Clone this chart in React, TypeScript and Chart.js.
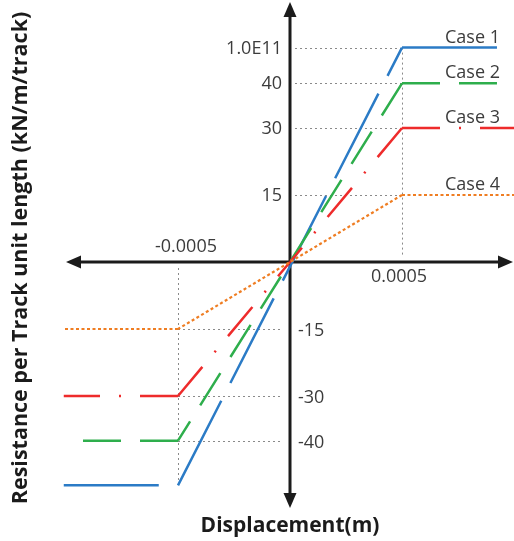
import React, { useEffect, useRef } from "react";
import { Chart, registerables } from "chart.js";

Chart.register(...registerables);

// ---- data ----
const caseNames = ["Case 1", "Case 2", "Case 3", "Case 4"];
const yieldDisp = 0.0005; // displacement at kink (m)
const posLimit = [48, 40, 30, 15];
const negLimit = [-50, -40, -30, -15];
const leftEnd = [-0.00101, -0.00093, -0.00101, -0.00101];
const rightEnd = [0.000924, 0.000924, 0.001, 0.001];

const yTickValues = [48, 40, 30, 15, -15, -30, -40];
const yTickLabels = ["1.0E11", "40", "30", "15", "-15", "-30", "-40"];
const xTickValues = [-0.0005, 0.0005];
const xTickLabels = ["-0.0005", "0.0005"];

// ---- styles ----
const colors = ["#2b7bc6", "#2eae4c", "#ee2b2b", "#ef7d22"];
const dashes = [[95, 20], [38, 19], [38, 19, 2, 19], [3, 2.5]];
const widths = [2.5, 2.5, 2.5, 2.2];
const FONT = "'Open Sans', 'Noto Sans', sans-serif";

const W = 514;
const H = 541;
const X0 = 290; // pixel of x = 0
const Y0 = 262; // pixel of y = 0
const XPX = 112 / 0.0005; // px per metre
const YPX = 4.467; // px per unit

type P = { x: number; y: number };

function seg(points: P[], i: number) {
  return {
    data: points,
    borderColor: colors[i],
    backgroundColor: colors[i],
    borderDash: dashes[i],
    borderWidth: widths[i],
    borderCapStyle: "butt" as const,
    showLine: true,
    pointRadius: 0,
    fill: false,
    tension: 0,
  };
}

function buildDatasets() {
  const ds: any[] = [];
  for (let i = caseNames.length - 1; i >= 0; i--) {
    const k = yieldDisp;
    const p = posLimit[i];
    const n = negLimit[i];
    if (i === 0) {
      ds.push(seg([{ x: leftEnd[i], y: n }, { x: -k, y: n }], i));
      ds.push(seg([{ x: -k, y: n }, { x: k, y: p }], i));
    } else if (i === 2) {
      ds.push(seg([{ x: -k, y: n }, { x: leftEnd[i], y: n }], i));
      ds.push(seg([{ x: k, y: p }, { x: 0, y: 0 }], i));
      ds.push(seg([{ x: -k, y: n }, { x: 0, y: 0 }], i));
    } else {
      ds.push(seg([{ x: -k, y: n }, { x: leftEnd[i], y: n }], i));
      ds.push(seg([{ x: k, y: p }, { x: -k, y: n }], i));
    }
    ds.push(seg([{ x: k, y: p }, { x: rightEnd[i], y: p }], i));
  }
  return ds;
}

const overlay = {
  id: "overlay",
  beforeDatasetsDraw(chart: any) {
    const ctx = chart.ctx;
    const xs = chart.scales.x;
    const ys = chart.scales.y;
    const ox = xs.getPixelForValue(0);
    const oy = ys.getPixelForValue(0);
    ctx.save();
    // dotted guide lines
    ctx.strokeStyle = "#8a8a8a";
    ctx.lineWidth = 1;
    ctx.setLineDash([2, 3]);
    const kx = xs.getPixelForValue(yieldDisp);
    const nkx = xs.getPixelForValue(-yieldDisp);
    yTickValues.forEach((v) => {
      const py = Math.round(ys.getPixelForValue(v)) + 0.5;
      ctx.beginPath();
      if (v > 0) {
        ctx.moveTo(ox + 5, py);
        ctx.lineTo(kx, py);
      } else {
        ctx.moveTo(nkx, py);
        ctx.lineTo(ox - 7, py);
      }
      ctx.stroke();
    });
    ctx.beginPath();
    ctx.moveTo(Math.round(kx) + 0.5, ys.getPixelForValue(posLimit[0]));
    ctx.lineTo(Math.round(kx) + 0.5, oy - 5);
    ctx.stroke();
    ctx.beginPath();
    ctx.moveTo(Math.round(nkx) + 0.5, oy + 6);
    ctx.lineTo(Math.round(nkx) + 0.5, ys.getPixelForValue(negLimit[0]));
    ctx.stroke();

    // axes with arrows
    ctx.setLineDash([]);
    ctx.strokeStyle = "#1b1b1b";
    ctx.fillStyle = "#1b1b1b";
    ctx.lineWidth = 3;
    const top = 2, bottom = 508, left = 66, right = 513;
    const ah = 15, aw = 6.5;
    ctx.beginPath();
    ctx.moveTo(ox, top + ah - 1);
    ctx.lineTo(ox, bottom - ah + 1);
    ctx.moveTo(left + ah - 1, oy);
    ctx.lineTo(right - ah + 1, oy);
    ctx.stroke();
    const tri = (a: number[], b: number[], c: number[]) => {
      ctx.beginPath();
      ctx.moveTo(a[0], a[1]);
      ctx.lineTo(b[0], b[1]);
      ctx.lineTo(c[0], c[1]);
      ctx.closePath();
      ctx.fill();
    };
    tri([ox, top], [ox - aw, top + ah], [ox + aw, top + ah]);
    tri([ox, bottom], [ox - aw, bottom - ah], [ox + aw, bottom - ah]);
    tri([left, oy], [left + ah, oy - aw], [left + ah, oy + aw]);
    tri([right, oy], [right - ah, oy - aw], [right - ah, oy + aw]);
    ctx.restore();
  },
  afterDatasetsDraw(chart: any) {
    const ctx = chart.ctx;
    const xs = chart.scales.x;
    const ys = chart.scales.y;
    const ox = xs.getPixelForValue(0);
    const oy = ys.getPixelForValue(0);
    ctx.save();
    ctx.fillStyle = "#3c3c3c";
    ctx.font = `18px ${FONT}`;
    ctx.textBaseline = "middle";
    yTickValues.forEach((v, i) => {
      const py = ys.getPixelForValue(v) + 1;
      if (v > 0) {
        ctx.textAlign = "right";
        ctx.fillText(yTickLabels[i], ox - 8, py);
      } else {
        ctx.textAlign = "left";
        ctx.fillText(yTickLabels[i], ox + 8, py + 1);
      }
    });
    xTickValues.forEach((v, i) => {
      const px = xs.getPixelForValue(v);
      ctx.textAlign = "center";
      if (v < 0) ctx.fillText(xTickLabels[i], px + 8, oy - 15);
      else ctx.fillText(xTickLabels[i], px - 3, oy + 15);
    });
    ctx.textAlign = "left";
    caseNames.forEach((name, i) => {
      const py = ys.getPixelForValue(posLimit[i]) - 10;
      ctx.fillText(name, 445, py);
    });
    // axis titles
    ctx.fillStyle = "#1b1b1b";
    ctx.font = `bold 21px ${FONT}`;
    ctx.textAlign = "center";
    ctx.fillText("Displacement(m)", ox, 526);
    ctx.translate(21, 258);
    ctx.rotate(-Math.PI / 2);
    ctx.font = `bold 21.5px ${FONT}`;
    ctx.fillText("Resistance per Track unit length (kN/m/track)", 0, 0);
    ctx.restore();
  },
};

export default function App() {
  const ref = useRef<HTMLCanvasElement | null>(null);
  useEffect(() => {
    if (!ref.current) return;
    const chart = new Chart(ref.current, {
      type: "scatter",
      data: { datasets: buildDatasets() },
      options: {
        animation: false,
        responsive: false,
        maintainAspectRatio: false,
        layout: { padding: 0 },
        plugins: { legend: { display: false }, tooltip: { enabled: false } },
        scales: {
          x: {
            type: "linear",
            display: false,
            min: -X0 / XPX,
            max: (W - X0) / XPX,
          },
          y: {
            type: "linear",
            display: false,
            min: -(H - Y0) / YPX,
            max: Y0 / YPX,
          },
        },
      },
      plugins: [overlay],
    });
    return () => chart.destroy();
  }, []);
  return (
    <div style={{ position: "fixed", left: 0, top: 0, width: W, height: H, background: "#fff" }}>
      <canvas ref={ref} width={W} height={H} style={{ width: W, height: H, display: "block" }} />
    </div>
  );
}
